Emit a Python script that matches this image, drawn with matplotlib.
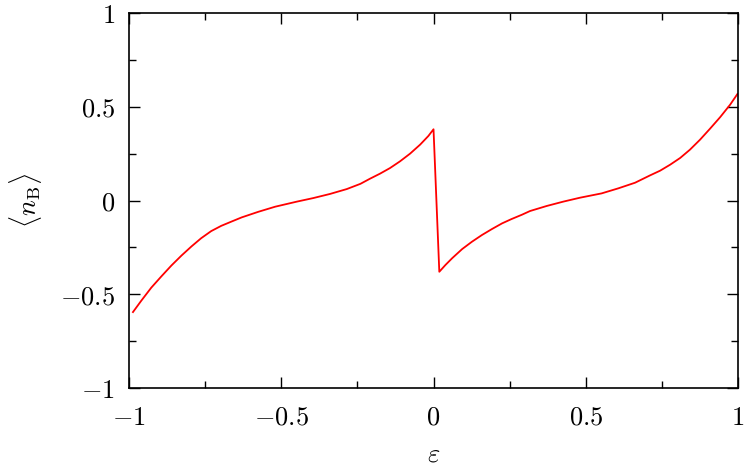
import numpy as np
import matplotlib
matplotlib.use("Agg")
import matplotlib.pyplot as plt
from matplotlib.ticker import MultipleLocator

# values
eps = [-0.987, -0.960, -0.927, -0.894, -0.861, -0.828, -0.795, -0.763, -0.730,
       -0.697, -0.660, -0.630, -0.575, -0.520, -0.449, -0.395, -0.340, -0.285,
       -0.240, -0.209, -0.176, -0.143, -0.110, -0.077, -0.044, -0.017, 0.0,
       0.019, 0.039, 0.061, 0.094, 0.126, 0.159, 0.192, 0.225, 0.256, 0.290,
       0.317, 0.372, 0.426, 0.481, 0.552, 0.607, 0.662, 0.711, 0.744, 0.777,
       0.810, 0.842, 0.875, 0.908, 0.941, 0.974, 0.998]
nB = [-0.595, -0.535, -0.465, -0.405, -0.347, -0.294, -0.245, -0.201, -0.163,
      -0.135, -0.110, -0.090, -0.060, -0.033, -0.006, 0.013, 0.035, 0.061,
      0.089, 0.116, 0.143, 0.173, 0.209, 0.250, 0.298, 0.344, 0.380,
      -0.380, -0.344, -0.308, -0.259, -0.220, -0.184, -0.152, -0.122, -0.099, -0.076,
      -0.056, -0.029, -0.006, 0.015, 0.038, 0.065, 0.095, 0.134, 0.159, 0.191,
      0.227, 0.271, 0.324, 0.383, 0.444, 0.511, 0.568]

xticks = [-1, -0.5, 0, 0.5, 1]
yticks = [-1, -0.5, 0, 0.5, 1]

plt.rcParams['mathtext.fontset'] = 'cm'
fs = 19

fig = plt.figure(figsize=(7.47, 4.68), dpi=100)
ax = fig.add_axes([0.1727, 0.1709, 0.988 - 0.1727, 0.9722 - 0.1709])
ax.plot(eps, nB, color='red', lw=1.3)

ax.set_xlim(-1, 1)
ax.set_ylim(-1, 1)

def lab(v):
    if v == int(v):
        s = str(int(v))
    else:
        s = str(v)
    return '$' + s + '$'

ax.set_xticks(xticks)
ax.set_xticklabels([lab(v) for v in xticks], fontsize=fs)
ax.set_yticks(yticks)
ax.set_yticklabels([lab(v) for v in yticks], fontsize=fs)
ax.xaxis.set_minor_locator(MultipleLocator(0.25))
ax.yaxis.set_minor_locator(MultipleLocator(0.25))
ax.tick_params(which='both', direction='in', top=True, right=True, width=1.0)
ax.tick_params(which='major', length=8)
ax.tick_params(which='minor', length=5)
ax.tick_params(axis='x', pad=12)
ax.tick_params(axis='y', pad=10)
for s in ax.spines.values():
    s.set_linewidth(1.2)

ax.set_xlabel(r'$\varepsilon$', fontsize=fs, labelpad=8)
ax.set_ylabel(r'$\langle n_{\mathrm{B}}\rangle$', fontsize=fs, labelpad=12)

fig.savefig('out.png', dpi=100)
